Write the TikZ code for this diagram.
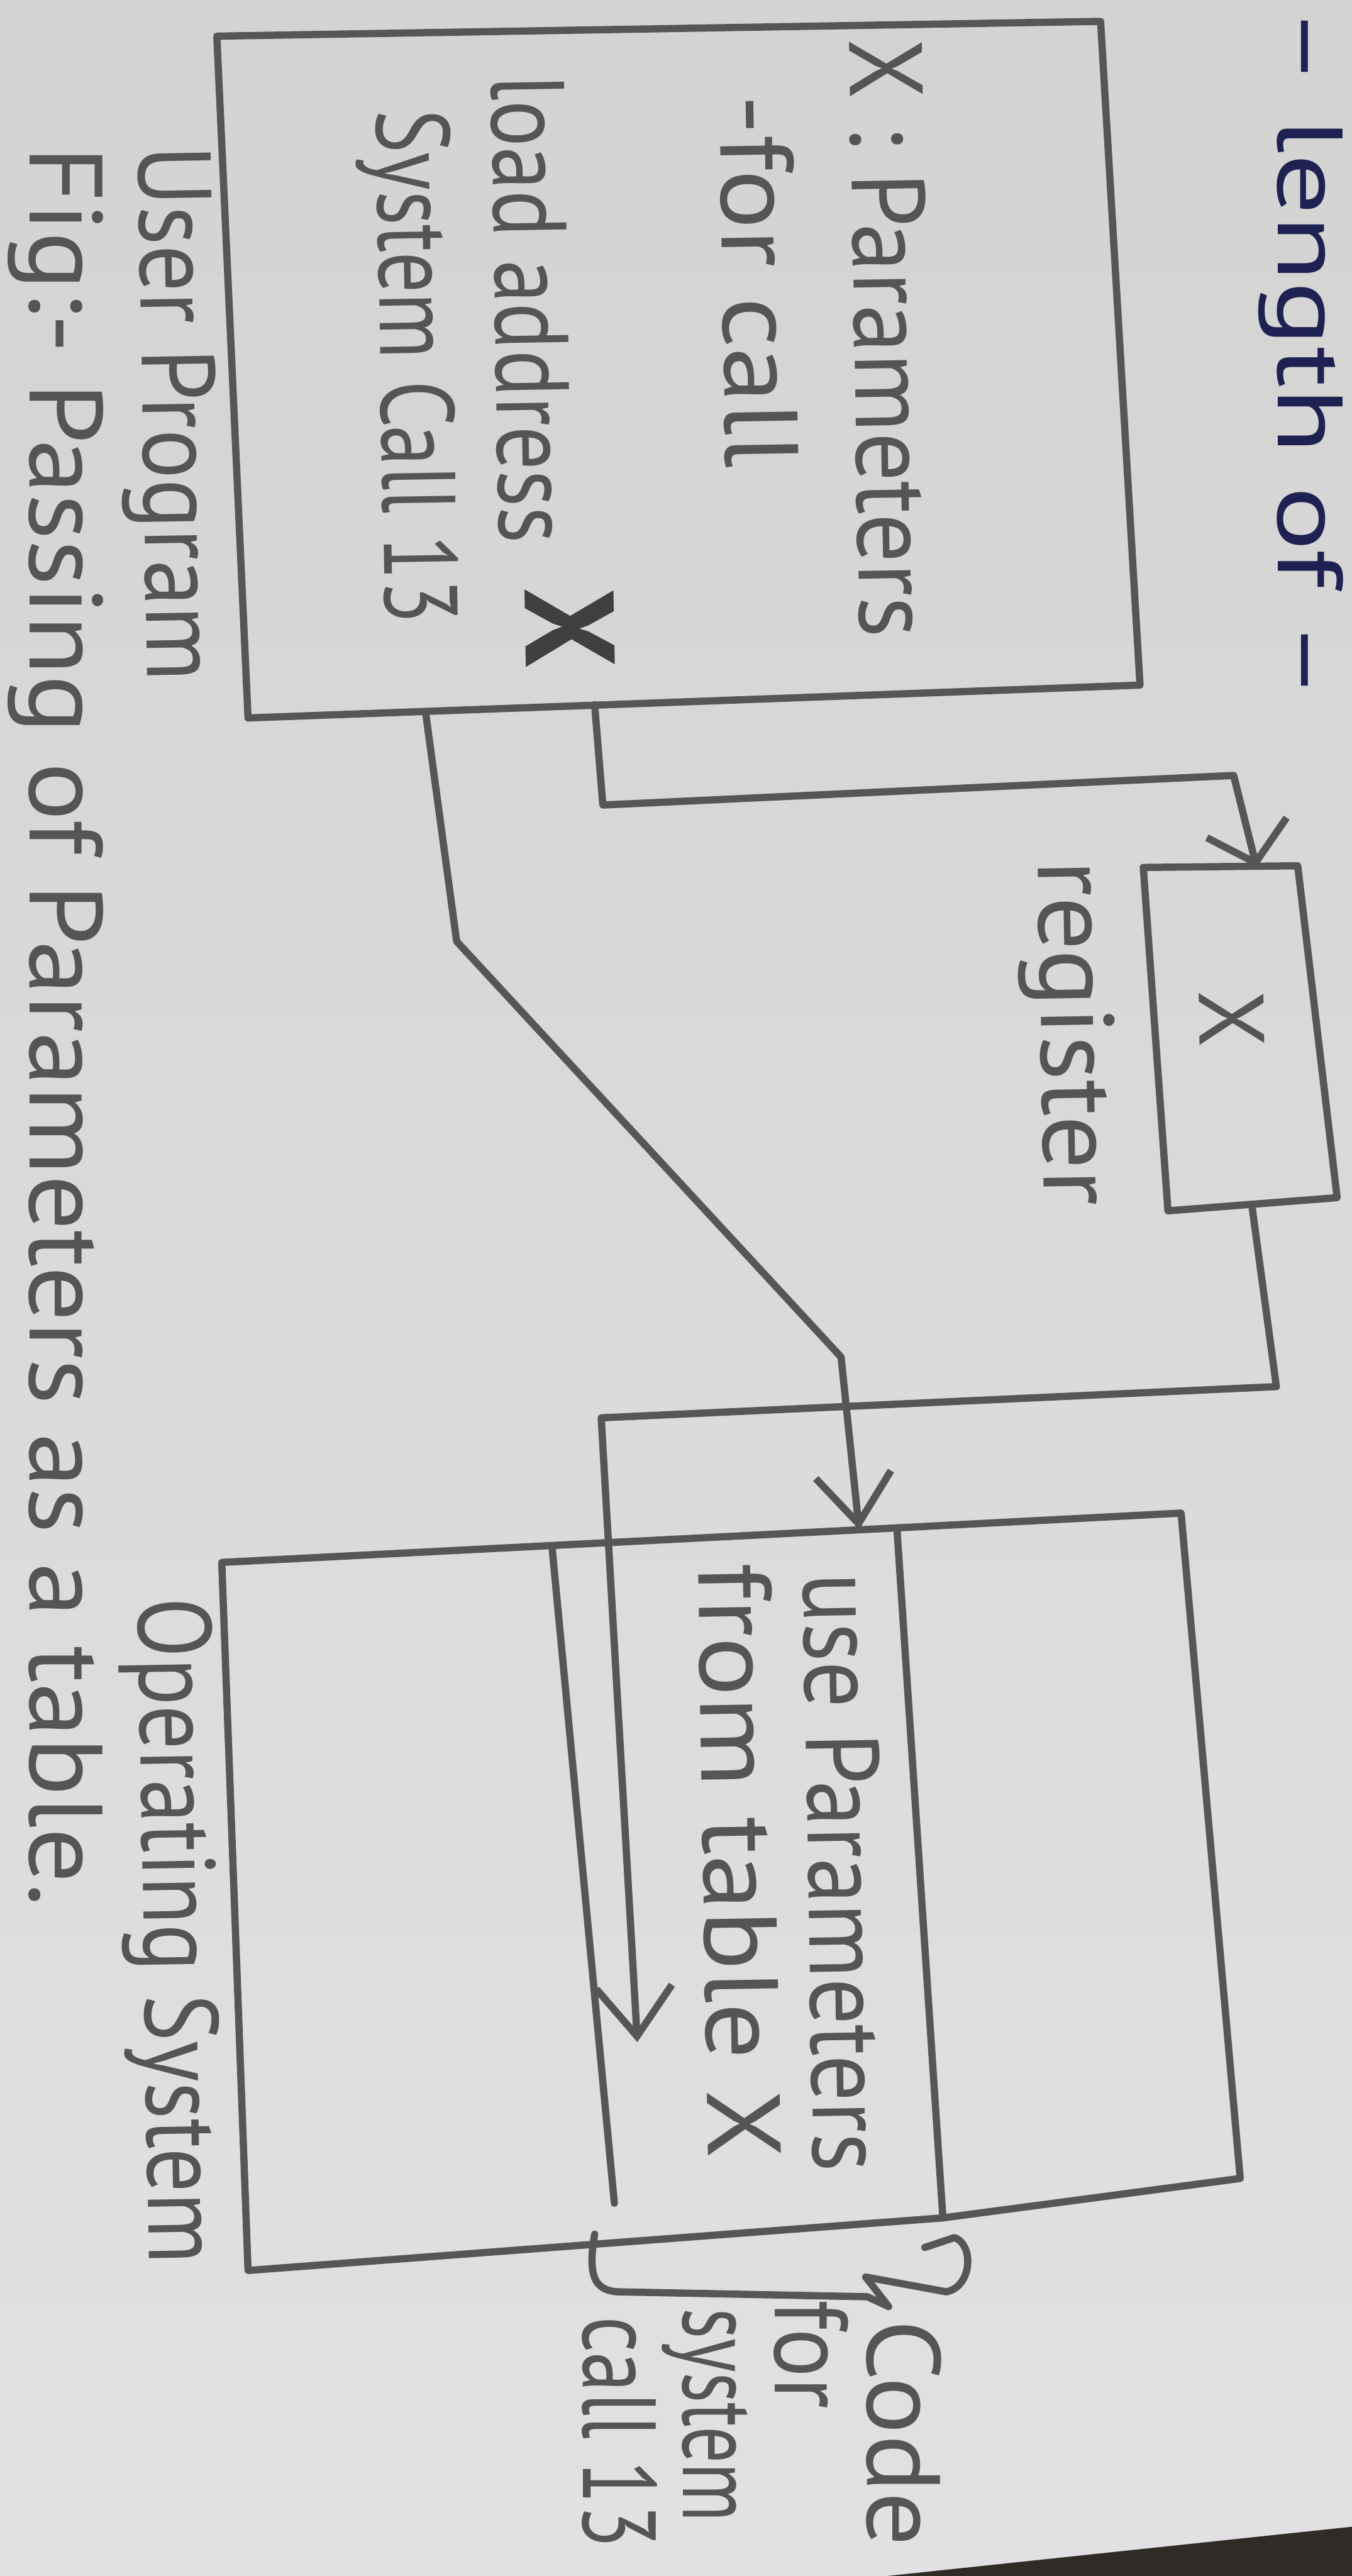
\documentclass[tikz,border=0pt]{standalone}
\usepackage{fontspec}
\setmainfont{PT Sans}
\usetikzlibrary{arrows.meta}
\definecolor{paperTop}{HTML}{D3D3D1}
\definecolor{paperBottom}{HTML}{E1E1E3}
\definecolor{graphite}{HTML}{565656}
\definecolor{pencilText}{HTML}{555555}
\definecolor{pencilDark}{HTML}{404040}
\definecolor{inkBlue}{HTML}{1E2252}
\definecolor{tableDark}{HTML}{302B26}
% stretch a text horizontally to a given length, keeping its height
\newcommand\fitw[2]{\resizebox{#1}{\height}{#2}}

\begin{document}
\begin{tikzpicture}[x=0.01cm, y=-0.01cm,
  pencilline/.style={draw=graphite, line width=1.25pt, line cap=round, line join=round},
  flow/.style={pencilline, -{Straight Barb[length=3mm,width=4.6mm]}},
  handtext/.style={text=pencilText, font=\fontsize{18}{21}\selectfont,
    inner sep=0pt, outer sep=0pt, anchor=base west, rotate=-89},
  straighttext/.style={handtext, rotate=-1},
]
\useasboundingbox (0,0) rectangle (823,1568);
\clip (0,0) rectangle (823,1568);

% paper sheet and the table showing at the corner
\fill[top color=paperTop, bottom color=paperBottom] (0,0) rectangle (823,1568);
\fill[tableDark] (540,1568) -- (823,1538) -- (823,1568) -- cycle;

% ---------- user program ----------
\coordinate (up-nw) at (132,22);
\coordinate (up-ne) at (670,13);
\coordinate (up-se) at (694,417);
\coordinate (up-sw) at (151,437);
\draw[pencilline] (up-nw) -- (up-ne) -- (up-se) -- (up-sw) -- cycle;

% ---------- register ----------
\coordinate (rg-nw) at (696,528);
\coordinate (rg-ne) at (790,527);
\coordinate (rg-se) at (814,729);
\coordinate (rg-sw) at (711,737);
\draw[pencilline] (rg-nw) -- (rg-ne) -- (rg-se) -- (rg-sw) -- cycle;

% ---------- operating system ----------
\coordinate (os-nw) at (135,951);
\coordinate (os-dt) at (546,930);
\coordinate (os-ne) at (719,921);
\coordinate (os-se) at (755,1326);
\coordinate (os-db) at (574,1350);
\coordinate (os-sw) at (151,1382);
\draw[pencilline] (os-nw) -- (os-dt) -- (os-ne) -- (os-se) -- (os-db) -- (os-sw) -- cycle;
\draw[pencilline] (os-dt) -- (os-db);
\coordinate (os-lt) at (336,941);
\coordinate (os-lb) at (374,1341);
\draw[pencilline] (os-lt) -- (os-lb);

% ---------- connectors ----------
% user program -> register
\coordinate (up-r) at (362,429);
\coordinate (c1a) at (367,490);
\coordinate (c1b) at (751,472);
\coordinate (rg-in) at (765,528);
\draw[pencilline, -{Straight Barb[length=2.2mm,width=5mm]}] (up-r) -- (c1a) -- (c1b) -- (rg-in);

% user program -> operating system
\coordinate (up-d) at (259,433);
\coordinate (c3a) at (278,573);
\coordinate (c3b) at (512,826);
\coordinate (os-in) at (523,931);
\draw[flow] (up-d) -- (c3a) -- (c3b) -- (os-in);

% register -> operating system
\coordinate (rg-out) at (762,733);
\coordinate (c2a) at (777,844);
\coordinate (c2b) at (366,863);
\coordinate (os-tip) at (388,1243);
\draw[flow] (rg-out) -- (c2a) -- (c2b) -- (os-tip);

% brace marking the code for system call 13
\coordinate (br-l) at (362,1360);
\coordinate (br-tip) at (541,1404);
\coordinate (br-r) at (563,1368);
\draw[pencilline] (br-l) .. controls (358,1384) and (361,1394) .. (376,1395)
  -- (528,1398) -- (br-tip) -- (527,1386) -- (576,1395)
  .. controls (592,1392) and (593,1366) .. (581,1362) -- (br-r);

% ---------- texts ----------
\node[handtext] (t-params) at (517,24) {\fitw{3.64cm}{X : Parameters}};
\node[handtext] (t-forcall) at (438,58) {\fitw{2.27cm}{-for call}};
\node[handtext] (t-load) at (299,46) {\fitw{2.85cm}{load address}};
\node[handtext, anchor=center, text=pencilDark, font=\fontsize{22}{24}\bfseries] (t-loadx) at (347,382) {X};
\node[handtext] (t-syscall) at (229,67) {\fitw{3.13cm}{System Call 13}};
\node[handtext] (t-user) at (84,89) {\fitw{3.26cm}{User Program}};
\node[straighttext] (t-caption) at (18,89) {\fitw{10.71cm}{Fig:- Passing of Parameters as a table.}};

\node[handtext] (t-register) at (632,524) {\fitw{2.10cm}{register}};
\node[handtext, anchor=center, font=\fontsize{16}{18}\selectfont] (t-regx) at (750,620) {X};

\node[handtext] (t-use) at (489,958) {\fitw{3.64cm}{use Parameters}};
\node[handtext] (t-from) at (425,952) {\fitw{3.62cm}{from table X}};
\node[handtext] (t-os) at (84,973) {\fitw{4.05cm}{Operating System}};

\node[straighttext] (t-code) at (528,1412) {\fitw{1.38cm}{Code}};
\node[straighttext] (t-for) at (472,1400) {\fitw{0.66cm}{for}};
\node[straighttext] (t-system) at (416,1405) {\fitw{1.30cm}{system}};
\node[straighttext] (t-call) at (355,1410) {\fitw{1.41cm}{call 13}};

\node[straighttext, text=inkBlue, font=\fontsize{16}{18}\selectfont] (t-length) at (778,4) {\fitw{4.22cm}{– length of –}};
\end{tikzpicture}
\end{document}
